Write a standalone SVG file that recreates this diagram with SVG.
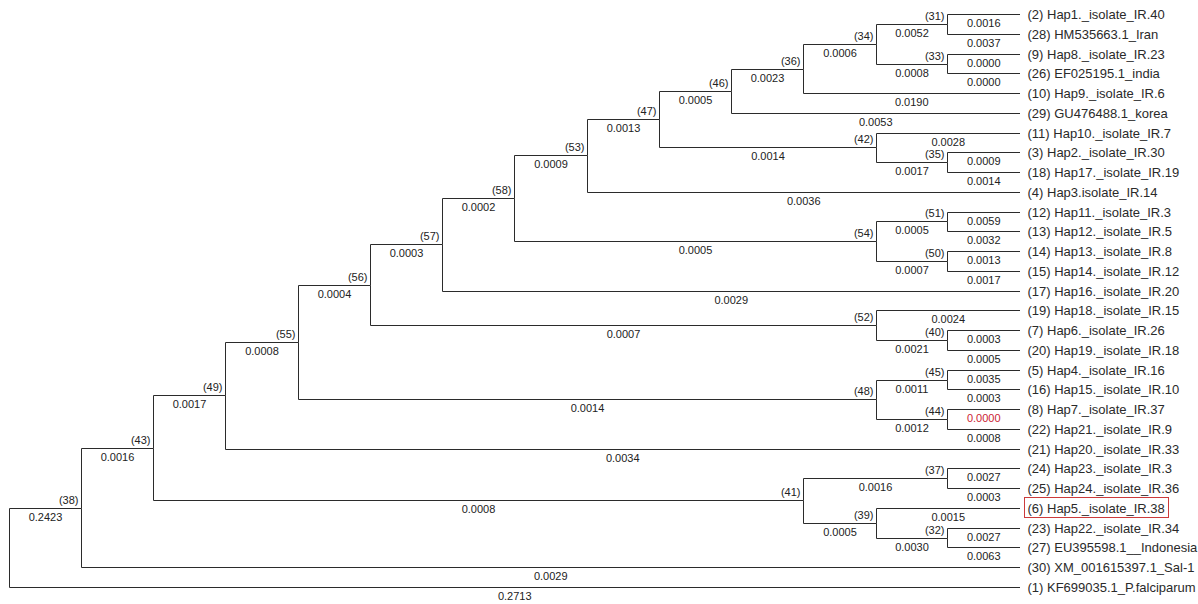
<svg xmlns="http://www.w3.org/2000/svg" width="1198" height="604" viewBox="0 0 1198 604">
<style>
.br{fill:none;stroke:#2b2b2b;stroke-width:1}
.bl{font-family:"Liberation Sans",Arial,sans-serif;font-size:11px;fill:#222;text-anchor:middle}
.red{fill:#cc2233}
.nl{font-family:"Liberation Sans",Arial,sans-serif;font-size:11px;fill:#222;text-anchor:end}
.lf{font-family:"Liberation Sans",Arial,sans-serif;font-size:13px;fill:#2a2a2a}
</style>
<rect width="1198" height="604" fill="#ffffff"/>
<g id="connectors">
<path class="br" d="M9.5 548V508.5H81.5"/><text class="bl" x="45.5" y="521">0.2423</text>
<path class="br" d="M9.5 548V587.5H1020"/><text class="bl" x="514.75" y="600">0.2713</text>
<path class="br" d="M81.5 508.5V448.5H153.5"/><text class="bl" x="117.5" y="461">0.0016</text>
<path class="br" d="M81.5 508.5V567.5H1020"/><text class="bl" x="550.75" y="580">0.0029</text>
<path class="br" d="M153.5 448.5V395.5H225.5"/><text class="bl" x="189.5" y="408">0.0017</text>
<path class="br" d="M153.5 448.5V500.5H803.5"/><text class="bl" x="478.5" y="513">0.0008</text>
<path class="br" d="M225.5 395.5V342.5H298.5"/><text class="bl" x="262" y="355">0.0008</text>
<path class="br" d="M225.5 395.5V449.5H1020"/><text class="bl" x="622.75" y="462">0.0034</text>
<path class="br" d="M298.5 342.5V285.5H370.5"/><text class="bl" x="334.5" y="298">0.0004</text>
<path class="br" d="M298.5 342.5V399.5H876.5"/><text class="bl" x="587.5" y="412">0.0014</text>
<path class="br" d="M370.5 285.5V244.5H442.5"/><text class="bl" x="406.5" y="257">0.0003</text>
<path class="br" d="M370.5 285.5V325.5H876.5"/><text class="bl" x="623.5" y="338">0.0007</text>
<path class="br" d="M442.5 244.5V198.5H514.5"/><text class="bl" x="478.5" y="211">0.0002</text>
<path class="br" d="M442.5 244.5V291.5H1020"/><text class="bl" x="731.25" y="304">0.0029</text>
<path class="br" d="M514.5 198.5V155.5H587.5"/><text class="bl" x="551" y="168">0.0009</text>
<path class="br" d="M514.5 198.5V241.5H876.5"/><text class="bl" x="695.5" y="254">0.0005</text>
<path class="br" d="M587.5 155.5V119.5H659.5"/><text class="bl" x="623.5" y="132">0.0013</text>
<path class="br" d="M587.5 155.5V192.5H1020"/><text class="bl" x="803.75" y="205">0.0036</text>
<path class="br" d="M659.5 119.5V91.5H731.5"/><text class="bl" x="695.5" y="104">0.0005</text>
<path class="br" d="M659.5 119.5V147.5H876.5"/><text class="bl" x="768" y="160">0.0014</text>
<path class="br" d="M731.5 91.5V69.5H803.5"/><text class="bl" x="767.5" y="82">0.0023</text>
<path class="br" d="M731.5 91.5V113.5H1020"/><text class="bl" x="875.75" y="126">0.0053</text>
<path class="br" d="M803.5 69.5V44.5H876.5"/><text class="bl" x="840" y="57">0.0006</text>
<path class="br" d="M803.5 69.5V93.5H1020"/><text class="bl" x="911.75" y="106">0.0190</text>
<path class="br" d="M876.5 44.5V24.5H947.5"/><text class="bl" x="912" y="37">0.0052</text>
<path class="br" d="M876.5 44.5V64.5H947.5"/><text class="bl" x="912" y="77">0.0008</text>
<path class="br" d="M947.5 24.5V14.5H1020"/><text class="bl" x="983.75" y="27">0.0016</text>
<path class="br" d="M947.5 24.5V34.5H1020"/><text class="bl" x="983.75" y="47">0.0037</text>
<path class="br" d="M947.5 64.5V54.5H1020"/><text class="bl" x="983.75" y="67">0.0000</text>
<path class="br" d="M947.5 64.5V73.5H1020"/><text class="bl" x="983.75" y="86">0.0000</text>
<path class="br" d="M876.5 147.5V133.5H1020"/><text class="bl" x="948.25" y="146">0.0028</text>
<path class="br" d="M876.5 147.5V162.5H947.5"/><text class="bl" x="912" y="175">0.0017</text>
<path class="br" d="M947.5 162.5V152.5H1020"/><text class="bl" x="983.75" y="165">0.0009</text>
<path class="br" d="M947.5 162.5V172.5H1020"/><text class="bl" x="983.75" y="185">0.0014</text>
<path class="br" d="M876.5 241.5V221.5H947.5"/><text class="bl" x="912" y="234">0.0005</text>
<path class="br" d="M876.5 241.5V261.5H947.5"/><text class="bl" x="912" y="274">0.0007</text>
<path class="br" d="M947.5 221.5V212.5H1020"/><text class="bl" x="983.75" y="225">0.0059</text>
<path class="br" d="M947.5 221.5V231.5H1020"/><text class="bl" x="983.75" y="244">0.0032</text>
<path class="br" d="M947.5 261.5V251.5H1020"/><text class="bl" x="983.75" y="264">0.0013</text>
<path class="br" d="M947.5 261.5V271.5H1020"/><text class="bl" x="983.75" y="284">0.0017</text>
<path class="br" d="M876.5 325.5V310.5H1020"/><text class="bl" x="948.25" y="323">0.0024</text>
<path class="br" d="M876.5 325.5V340.5H947.5"/><text class="bl" x="912" y="353">0.0021</text>
<path class="br" d="M947.5 340.5V330.5H1020"/><text class="bl" x="983.75" y="343">0.0003</text>
<path class="br" d="M947.5 340.5V350.5H1020"/><text class="bl" x="983.75" y="363">0.0005</text>
<path class="br" d="M876.5 399.5V380.5H947.5"/><text class="bl" x="912" y="393">0.0011</text>
<path class="br" d="M876.5 399.5V419.5H947.5"/><text class="bl" x="912" y="432">0.0012</text>
<path class="br" d="M947.5 380.5V370.5H1020"/><text class="bl" x="983.75" y="383">0.0035</text>
<path class="br" d="M947.5 380.5V389.5H1020"/><text class="bl" x="983.75" y="402">0.0003</text>
<path class="br" d="M947.5 419.5V409.5H1020"/><text class="bl red" x="983.75" y="422">0.0000</text>
<path class="br" d="M947.5 419.5V429.5H1020"/><text class="bl" x="983.75" y="442">0.0008</text>
<path class="br" d="M803.5 500.5V478.5H947.5"/><text class="bl" x="875.5" y="491">0.0016</text>
<path class="br" d="M803.5 500.5V523.5H876.5"/><text class="bl" x="840" y="536">0.0005</text>
<path class="br" d="M947.5 478.5V468.5H1020"/><text class="bl" x="983.75" y="481">0.0027</text>
<path class="br" d="M947.5 478.5V488.5H1020"/><text class="bl" x="983.75" y="501">0.0003</text>
<path class="br" d="M876.5 523.5V508.5H1020"/><text class="bl" x="948.25" y="521">0.0015</text>
<path class="br" d="M876.5 523.5V538.5H947.5"/><text class="bl" x="912" y="551">0.0030</text>
<path class="br" d="M947.5 538.5V528.5H1020"/><text class="bl" x="983.75" y="541">0.0027</text>
<path class="br" d="M947.5 538.5V547.5H1020"/><text class="bl" x="983.75" y="560">0.0063</text>
</g>
<g id="internal-nodes">
<g id="n38"><text class="nl" x="78.5" y="504">(38)</text></g>
<g id="n43"><text class="nl" x="150.5" y="444">(43)</text></g>
<g id="n49"><text class="nl" x="222.5" y="391">(49)</text></g>
<g id="n55"><text class="nl" x="295.5" y="338">(55)</text></g>
<g id="n56"><text class="nl" x="367.5" y="281">(56)</text></g>
<g id="n57"><text class="nl" x="439.5" y="240">(57)</text></g>
<g id="n58"><text class="nl" x="511.5" y="194">(58)</text></g>
<g id="n53"><text class="nl" x="584.5" y="151">(53)</text></g>
<g id="n47"><text class="nl" x="656.5" y="115">(47)</text></g>
<g id="n46"><text class="nl" x="728.5" y="87">(46)</text></g>
<g id="n36"><text class="nl" x="800.5" y="65">(36)</text></g>
<g id="n34"><text class="nl" x="873.5" y="40">(34)</text></g>
<g id="n31"><text class="nl" x="944.5" y="20">(31)</text></g>
<g id="n33"><text class="nl" x="944.5" y="60">(33)</text></g>
<g id="n42"><text class="nl" x="873.5" y="143">(42)</text></g>
<g id="n35"><text class="nl" x="944.5" y="158">(35)</text></g>
<g id="n54"><text class="nl" x="873.5" y="237">(54)</text></g>
<g id="n51"><text class="nl" x="944.5" y="217">(51)</text></g>
<g id="n50"><text class="nl" x="944.5" y="257">(50)</text></g>
<g id="n52"><text class="nl" x="873.5" y="321">(52)</text></g>
<g id="n40"><text class="nl" x="944.5" y="336">(40)</text></g>
<g id="n48"><text class="nl" x="873.5" y="395">(48)</text></g>
<g id="n45"><text class="nl" x="944.5" y="376">(45)</text></g>
<g id="n44"><text class="nl" x="944.5" y="415">(44)</text></g>
<g id="n41"><text class="nl" x="800.5" y="496">(41)</text></g>
<g id="n37"><text class="nl" x="944.5" y="474">(37)</text></g>
<g id="n39"><text class="nl" x="873.5" y="519">(39)</text></g>
<g id="n32"><text class="nl" x="944.5" y="534">(32)</text></g>
</g>
<g id="leaves">
<g id="leaf2"><text class="lf" x="1027.5" y="19">(2) Hap1._isolate_IR.40</text></g>
<g id="leaf28"><text class="lf" x="1027.5" y="39">(28) HM535663.1_Iran</text></g>
<g id="leaf9"><text class="lf" x="1027.5" y="59">(9) Hap8._isolate_IR.23</text></g>
<g id="leaf26"><text class="lf" x="1027.5" y="78">(26) EF025195.1_india</text></g>
<g id="leaf10"><text class="lf" x="1027.5" y="98">(10) Hap9._isolate_IR.6</text></g>
<g id="leaf29"><text class="lf" x="1027.5" y="118">(29) GU476488.1_korea</text></g>
<g id="leaf11"><text class="lf" x="1027.5" y="138">(11) Hap10._isolate_IR.7</text></g>
<g id="leaf3"><text class="lf" x="1027.5" y="157">(3) Hap2._isolate_IR.30</text></g>
<g id="leaf18"><text class="lf" x="1027.5" y="177">(18) Hap17._isolate_IR.19</text></g>
<g id="leaf4"><text class="lf" x="1027.5" y="197">(4) Hap3.isolate_IR.14</text></g>
<g id="leaf12"><text class="lf" x="1027.5" y="217">(12) Hap11._isolate_IR.3</text></g>
<g id="leaf13"><text class="lf" x="1027.5" y="236">(13) Hap12._isolate_IR.5</text></g>
<g id="leaf14"><text class="lf" x="1027.5" y="256">(14) Hap13._isolate_IR.8</text></g>
<g id="leaf15"><text class="lf" x="1027.5" y="276">(15) Hap14._isolate_IR.12</text></g>
<g id="leaf17"><text class="lf" x="1027.5" y="296">(17) Hap16._isolate_IR.20</text></g>
<g id="leaf19"><text class="lf" x="1027.5" y="315">(19) Hap18._isolate_IR.15</text></g>
<g id="leaf7"><text class="lf" x="1027.5" y="335">(7) Hap6._isolate_IR.26</text></g>
<g id="leaf20"><text class="lf" x="1027.5" y="355">(20) Hap19._isolate_IR.18</text></g>
<g id="leaf5"><text class="lf" x="1027.5" y="375">(5) Hap4._isolate_IR.16</text></g>
<g id="leaf16"><text class="lf" x="1027.5" y="394">(16) Hap15._isolate_IR.10</text></g>
<g id="leaf8"><text class="lf" x="1027.5" y="414">(8) Hap7._isolate_IR.37</text></g>
<g id="leaf22"><text class="lf" x="1027.5" y="434">(22) Hap21._isolate_IR.9</text></g>
<g id="leaf21"><text class="lf" x="1027.5" y="454">(21) Hap20._isolate_IR.33</text></g>
<g id="leaf24"><text class="lf" x="1027.5" y="473">(24) Hap23._isolate_IR.3</text></g>
<g id="leaf25"><text class="lf" x="1027.5" y="493">(25) Hap24._isolate_IR.36</text></g>
<g id="leaf6"><rect x="1024.5" y="497.5" width="144" height="20" fill="none" stroke="#cc3b3b" stroke-width="1"/><text class="lf" x="1027.5" y="513">(6) Hap5._isolate_IR.38</text></g>
<g id="leaf23"><text class="lf" x="1027.5" y="533">(23) Hap22._isolate_IR.34</text></g>
<g id="leaf27"><text class="lf" x="1027.5" y="552">(27) EU395598.1__Indonesia</text></g>
<g id="leaf30"><text class="lf" x="1027.5" y="572">(30) XM_001615397.1_Sal-1</text></g>
<g id="leaf1"><text class="lf" x="1027.5" y="592">(1) KF699035.1_P.falciparum</text></g>
</g>
</svg>
